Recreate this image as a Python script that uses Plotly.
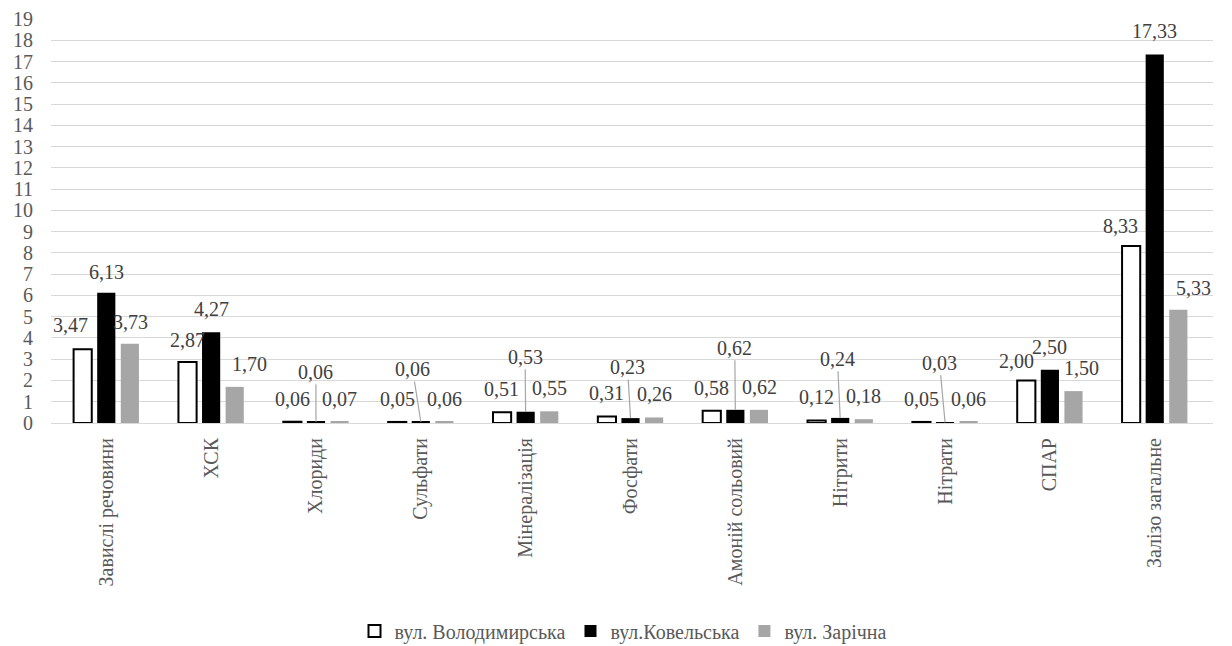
import plotly.graph_objects as go

# ---------------- data ----------------
categories = ["Завислі речовини", "ХСК", "Хлориди", "Сульфати", "Мінералізація",
              "Фосфати", "Амоній сольовий", "Нітрити", "Нітрати", "СПАР", "Залізо загальне"]
volodymyrska = [3.47, 2.87, 0.06, 0.05, 0.51, 0.31, 0.58, 0.12, 0.05, 2.00, 8.33]
kovelska = [6.13, 4.27, 0.06, 0.06, 0.53, 0.23, 0.62, 0.24, 0.03, 2.50, 17.33]
zarichna = [3.73, 1.70, 0.07, 0.06, 0.55, 0.26, 0.62, 0.18, 0.06, 1.50, 5.33]
series_names = ["вул. Володимирська", "вул.Ковельська", "вул. Зарічна"]
y_tick_values = list(range(0, 20))

# ---------------- style / layout ----------------
W, H = 1232, 646
ML, MR, MT, MB = 51, 19, 19, 223
BARGAP = 0.325
BARGROUPGAP = 0.23
FONT = "Liberation Serif"
TICK_COLOR = "#595959"
LABEL_COLOR = "#404040"
GRID = "#d9d9d9"
fills = ["#ffffff", "#000000", "#a6a6a6"]
outlines = ["#000000", "#000000", "#a6a6a6"]
outline_w = [2, 0, 0]

# label placement tweaks (pixels): default label centred 23 px above bar top
DEFAULT_DY = 23
label_shift = {  # (series, category): (dx, dy)
    (0, 0): (-12, 24), (1, 0): (0, 21), (2, 0): (0, 21.5),
    (0, 1): (0, 21.5), (1, 1): (0, 23.5), (2, 1): (14.5, 22.7),
    (0, 9): (-10, 19.5), (2, 9): (7.6, 23.4),
    (0, 10): (-10.8, 20.2), (1, 10): (0, 24), (2, 10): (15, 22),
}
# labels moved away with a leader line: (ax, ay) of text relative to bar top
leader = {
    (1, 2): (0, -50), (1, 3): (-8.3, -52.7), (1, 4): (-0.6, -55),
    (1, 5): (-3, -51), (1, 6): (-0.6, -62), (1, 7): (-2.8, -59),
    (1, 8): (-5.5, -59.7),
}

fig = go.Figure()
all_series = [volodymyrska, kovelska, zarichna]
for s, (name, vals) in enumerate(zip(series_names, all_series)):
    fig.add_trace(go.Bar(
        x=categories, y=vals, name=name,
        marker=dict(color=fills[s], line=dict(color=outlines[s], width=outline_w[s])),
        hoverinfo="skip",
    ))

plot_w = W - ML - MR
cat_w = plot_w / len(categories)
slot = cat_w * (1 - BARGAP) / 3

annotations = []
for s, vals in enumerate(all_series):
    xoff = (s - 1) * slot
    for c, v in enumerate(vals):
        txt = f"{v:.2f}".replace(".", ",")
        if (s, c) in leader:
            ax, ay = leader[(s, c)]
            annotations.append(dict(
                x=categories[c], y=v, xref="x", yref="y", xshift=xoff, yshift=0,
                text=txt, showarrow=True, arrowhead=0, arrowwidth=1.2,
                arrowcolor="#a6a6a6", ax=ax, ay=ay, axref="pixel", ayref="pixel",
                standoff=0, startstandoff=0,
                font=dict(family=FONT, size=20, color=LABEL_COLOR),
            ))
        else:
            dx, dy = label_shift.get((s, c), (0, DEFAULT_DY))
            annotations.append(dict(
                x=categories[c], y=v, xref="x", yref="y",
                xshift=xoff + dx, yshift=dy, xanchor="center", yanchor="middle",
                text=txt, showarrow=False,
                font=dict(family=FONT, size=20, color=LABEL_COLOR),
            ))

fig.update_layout(
    width=W, height=H,
    margin=dict(l=ML, r=MR, t=MT, b=MB, pad=0, autoexpand=False),
    paper_bgcolor="white", plot_bgcolor="white",
    barmode="group", bargap=BARGAP, bargroupgap=BARGROUPGAP,
    font=dict(family=FONT, size=20, color=TICK_COLOR),
    showlegend=True,
    legend=dict(orientation="h", x=(623 - ML) / plot_w, xanchor="center", yref="container",
                y=(H - 631) / H, yanchor="middle",
                font=dict(family=FONT, size=20, color=TICK_COLOR),
                itemwidth=30, tracegroupgap=0),
    annotations=annotations,
)
fig.update_xaxes(type="category", showgrid=False, showline=False, zeroline=False,
                 ticks="", tickangle=-90, ticklabelstandoff=10,
                 tickfont=dict(family=FONT, size=20, color=TICK_COLOR))
fig.update_yaxes(range=[0, 19], tickvals=y_tick_values, showgrid=True, gridcolor=GRID,
                 gridwidth=1, zeroline=True, zerolinecolor=GRID, zerolinewidth=1,
                 showline=False, ticks="", ticklabelstandoff=17,
                 tickfont=dict(family=FONT, size=20, color=TICK_COLOR))

fig.write_html("out.html", config={"displayModeBar": False},
               post_script="document.body.style.margin='0';document.body.style.overflow='hidden';")
